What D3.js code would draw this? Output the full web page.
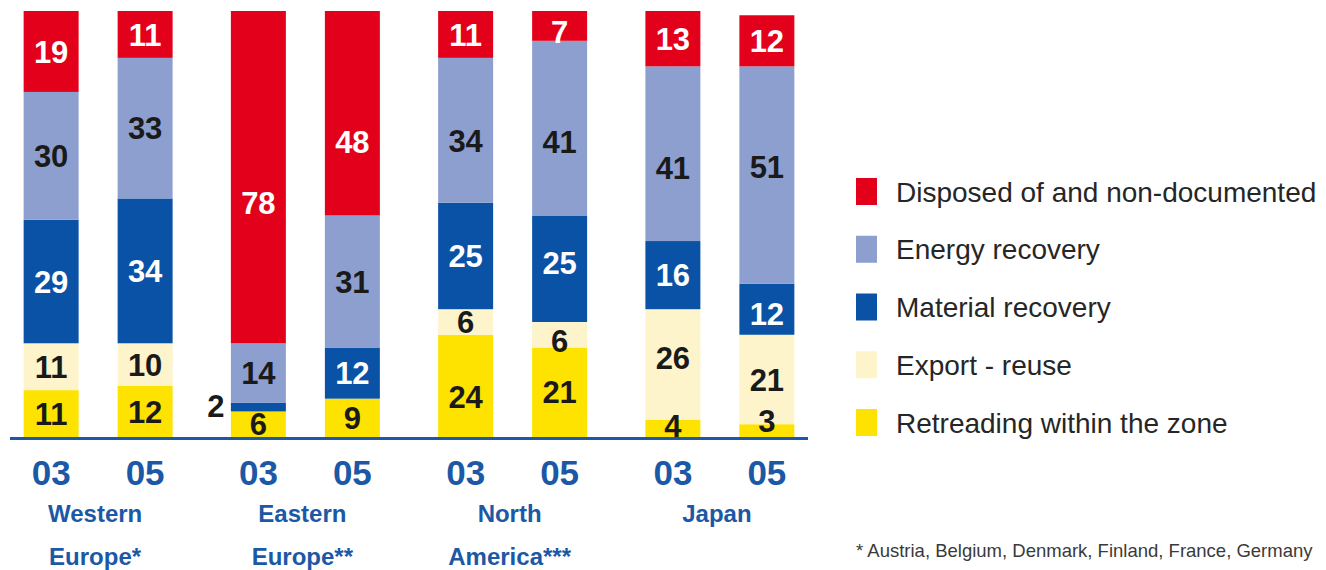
<!DOCTYPE html>
<html>
<head>
<meta charset="utf-8">
<script src="https://cdn.jsdelivr.net/npm/d3@7"></script>
<style>
  html, body { margin: 0; padding: 0; background: #ffffff; overflow: hidden; }
  svg { display: block; }
</style>
</head>
<body>
<svg id="chart" width="1326" height="570"></svg>
<script>
// Tyre end-of-life routes by region, share in % (2003 vs 2005)
const regions = ["Western Europe*", "Eastern Europe**", "North America***", "Japan"];
const years = ["03", "05"];
const seriesNames = [
  "Disposed of and non-documented",
  "Energy recovery",
  "Material recovery",
  "Export - reuse",
  "Retreading within the zone"
];
// one value per bar, bars ordered region by region, 03 then 05
const disposed   = [19, 11, 78, 48, 11,  7, 13, 12];
const energy     = [30, 33, 14, 31, 34, 41, 41, 51];
const material   = [29, 34,  2, 12, 25, 25, 16, 12];
const exportReuse= [11, 10,  0,  0,  6,  6, 26, 21];
const retreading = [11, 12,  6,  9, 24, 21,  4,  3];
const footnote = "* Austria, Belgium, Denmark, Finland, France, Germany";

const colors = {
  "Disposed of and non-documented": "#e3001b",
  "Energy recovery": "#8c9fcf",
  "Material recovery": "#0a52a5",
  "Export - reuse": "#fdf4cc",
  "Retreading within the zone": "#ffe300"
};
const lightText = { "Disposed of and non-documented": true, "Material recovery": true };
const axisBlue = "#1b58a5";

// stack from the bottom up
const stackOrder = ["Retreading within the zone", "Export - reuse", "Material recovery", "Energy recovery", "Disposed of and non-documented"];
const valuesBySeries = {
  "Disposed of and non-documented": disposed,
  "Energy recovery": energy,
  "Material recovery": material,
  "Export - reuse": exportReuse,
  "Retreading within the zone": retreading
};

const rows = [];
regions.forEach((r, gi) => {
  years.forEach((y, yi) => {
    const i = gi * 2 + yi;
    const row = { region: r, year: y, idx: i };
    stackOrder.forEach(s => row[s] = valuesBySeries[s][i]);
    rows.push(row);
  });
});

const stacked = d3.stack().keys(stackOrder)(rows);

const svg = d3.select("#chart");

const x0 = d3.scaleBand().domain(regions).range([-5.5, 823.5]).paddingInner(0).paddingOuter(0);
const x1 = d3.scaleBand().domain(years).range([0, x0.bandwidth()]).paddingInner(0.415).paddingOuter(0.31);
const y = d3.scaleLinear().domain([0, 100]).range([437, 11]);

// small vertical nudges so labels sit where they read best in tall segments
const labelNudge = {
  "2|Disposed of and non-documented": 26,
  "3|Disposed of and non-documented": 29,
  "4|Energy recovery": 11,
  "4|Retreading within the zone": 11,
  "5|Energy recovery": 14,
  "5|Disposed of and non-documented": 6,
  "5|Material recovery": -6,
  "5|Export - reuse": 6,
  "6|Energy recovery": 14,
  "6|Export - reuse": -7,
  "6|Retreading within the zone": -3,
  "7|Energy recovery": -8,
  "7|Material recovery": 5,
  "7|Retreading within the zone": -10
};

const barX = d => x0(d.data.region) + x1(d.data.year);

const layers = svg.append("g").attr("class", "bars")
  .selectAll("g").data(stacked).join("g")
  .attr("fill", s => colors[s.key]);

layers.selectAll("rect").data(s => s.map(d => Object.assign(d, { key: s.key })))
  .join("rect")
  .attr("x", barX)
  .attr("width", x1.bandwidth())
  .attr("y", d => y(d[1]))
  .attr("height", d => Math.max(0, y(d[0]) - y(d[1])));

// value labels
const labels = svg.append("g").attr("class", "labels")
  .attr("font-family", "'Liberation Sans Narrow', 'Liberation Sans', Arial, sans-serif")
  .attr("font-weight", "bold")
  .attr("font-size", 31)
  .attr("text-anchor", "middle");

stacked.forEach(s => {
  s.forEach(d => {
    const v = d[1] - d[0];
    if (v <= 0) return;
    const h = y(d[0]) - y(d[1]);
    const cx = barX(d) + x1.bandwidth() / 2;
    const cy = (y(d[0]) + y(d[1])) / 2 + (labelNudge[d.data.idx + "|" + s.key] || 0);
    const outside = h < 10;   // too thin to hold its number: label sits left of the bar
    labels.append("text")
      .attr("x", outside ? barX(d) - 15 : cx)
      .attr("y", outside ? cy - 1 : cy)
      .attr("dy", "0.36em")
      .attr("fill", !outside && lightText[s.key] ? "#ffffff" : "#1a1a1a")
      .text(v);
  });
});

// baseline
svg.append("line")
  .attr("x1", 10).attr("x2", 808)
  .attr("y1", y(0) + 1.5).attr("y2", y(0) + 1.5)
  .attr("stroke", axisBlue).attr("stroke-width", 3);

// year ticks under each region
regions.forEach(r => {
  const g = svg.append("g")
    .attr("transform", `translate(${x0(r)},${y(0)})`)
    .call(d3.axisBottom(x1).tickSize(0).tickPadding(0));
  g.select(".domain").remove();
  g.selectAll("text")
    .attr("y", 48)
    .attr("dy", 0)
    .attr("fill", axisBlue)
    .attr("font-family", "'Liberation Sans Narrow', 'Liberation Sans', Arial, sans-serif")
    .attr("font-weight", "bold")
    .attr("font-size", 35);
});

// region names, split over two lines
const regionLines = {
  "Western Europe*": ["Western", "Europe*"],
  "Eastern Europe**": ["Eastern", "Europe**"],
  "North America***": ["North", "America***"],
  "Japan": ["Japan"]
};
const nameG = svg.append("g")
  .attr("font-family", "'Liberation Sans', Arial, sans-serif")
  .attr("font-weight", "bold")
  .attr("font-size", 24)
  .attr("fill", axisBlue)
  .attr("text-anchor", "middle");
regions.forEach(r => {
  const t = nameG.append("text")
    .attr("x", x0(r) + x0.bandwidth() / 2 - 3)
    .attr("y", 522);
  regionLines[r].forEach((line, i) => {
    t.append("tspan")
      .attr("x", x0(r) + x0.bandwidth() / 2 - 3)
      .attr("dy", i === 0 ? 0 : 43)
      .text(line);
  });
});

// legend
const legend = svg.append("g").attr("transform", "translate(856,191.5)");
const item = legend.selectAll("g").data(seriesNames).join("g")
  .attr("transform", (d, i) => `translate(0,${i * 57.75})`);
item.append("rect")
  .attr("x", 0).attr("y", -13.5)
  .attr("width", 21).attr("height", 27)
  .attr("fill", d => colors[d]);
item.append("text")
  .attr("x", 40).attr("y", 0).attr("dy", "0.36em")
  .attr("font-family", "'Liberation Sans', Arial, sans-serif")
  .attr("font-size", 28)
  .attr("fill", "#262626")
  .text(d => d);

// footnote
svg.append("text")
  .attr("x", 856).attr("y", 557)
  .attr("font-family", "'Liberation Sans', Arial, sans-serif")
  .attr("font-size", 18.5)
  .attr("fill", "#3a3a3a")
  .text(footnote);
</script>
</body>
</html>
